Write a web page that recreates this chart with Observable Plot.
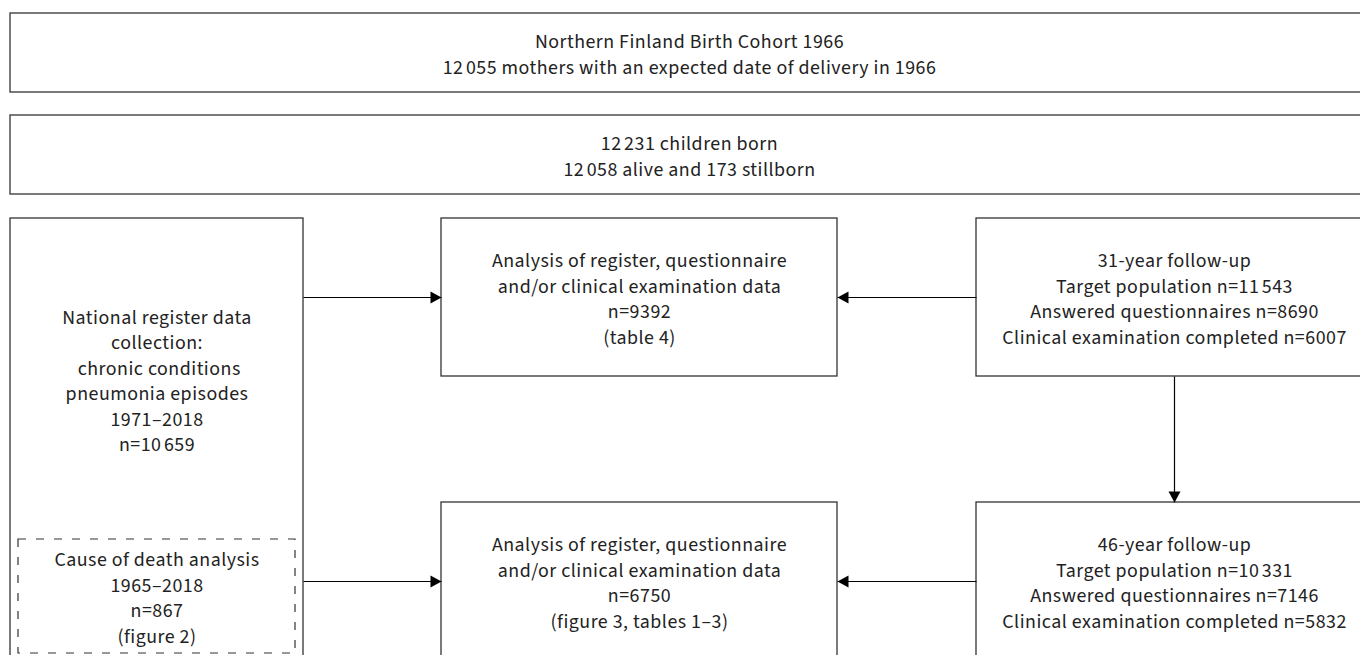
<!DOCTYPE html>
<html>
<head>
<meta charset="utf-8">
<script src="https://cdn.jsdelivr.net/npm/d3@7"></script>
<script src="https://cdn.jsdelivr.net/npm/@observablehq/plot@0.6"></script>
<style>
  html, body { margin: 0; padding: 0; background: #fff; overflow: hidden; }
  #chart svg { overflow: hidden; }
  #chart svg text { letter-spacing: 0.5px; }
</style>
</head>
<body>
<div id="chart"></div>
<script>
// ---- content (texts of the flow chart) ----
const boxIds = ["cohort", "born", "register", "analysis31", "follow31", "death", "analysis46", "follow46"];
const boxLabels = [
  "Northern Finland Birth Cohort 1966\n12\u2009055 mothers with an expected date of delivery in 1966",
  "12\u2009231 children born\n12\u2009058 alive and 173 stillborn",
  "National register data\ncollection:\n chronic conditions\npneumonia episodes\n1971\u20132018\nn=10\u2009659",
  "Analysis of register, questionnaire\nand/or clinical examination data\nn=9392\n(table 4)",
  "31-year follow-up\nTarget population n=11\u2009543\nAnswered questionnaires n=8690\nClinical examination completed n=6007",
  "Cause of death analysis\n1965\u20132018\nn=867\n(figure 2)",
  "Analysis of register, questionnaire\nand/or clinical examination data\nn=6750\n(figure 3, tables 1\u20133)",
  "46-year follow-up\nTarget population n=10\u2009331\nAnswered questionnaires n=7146\nClinical examination completed n=5832"
];
const boxDashed = [false, false, false, false, false, true, false, false];
// arrows: from box -> to box
const arrowFrom = ["register", "follow31", "death", "follow46", "follow31"];
const arrowTo   = ["analysis31", "analysis31", "analysis46", "analysis46", "follow46"];

// ---- layout (pixel geometry of the diagram) ----
const W = 1360, H = 655;
const layout = {
  cohort:     {x1: 10,  x2: 1368, y1: 13,  y2: 92},
  born:       {x1: 10,  x2: 1368, y1: 115, y2: 194},
  register:   {x1: 10,  x2: 303,  y1: 218, y2: 680, ty: 379},
  analysis31: {x1: 441, x2: 837,  y1: 218, y2: 376},
  follow31:   {x1: 976, x2: 1372, y1: 218, y2: 376},
  death:      {x1: 18,  x2: 295,  y1: 539, y2: 653},
  analysis46: {x1: 441, x2: 837,  y1: 502, y2: 660},
  follow46:   {x1: 976, x2: 1372, y1: 502, y2: 660}
};

const boxes = boxIds.map((id, i) => {
  const g = layout[id];
  return {id, label: boxLabels[i], dashed: boxDashed[i], ...g,
          cx: (g.x1 + g.x2) / 2, cy: g.ty ?? (g.y1 + g.y2) / 2};
});
const byId = Object.fromEntries(boxes.map(b => [b.id, b]));

// compute arrow endpoints from box geometry
const arrows = arrowFrom.map((f, i) => {
  const a = byId[f], b = byId[arrowTo[i]];
  if (a.x2 <= b.x1) { // left -> right
    const y = (b.y1 + b.y2) / 2;
    return {x1: a.x2, y1: y, x2: b.x1, y2: y, dir: "right"};
  } else if (a.x1 >= b.x2) { // right -> left
    const y = (b.y1 + b.y2) / 2;
    return {x1: a.x1, y1: y, x2: b.x2, y2: y, dir: "left"};
  } else { // top -> bottom
    const x = (b.x1 + b.x2) / 2;
    return {x1: x, y1: a.y2, x2: x, y2: b.y1, dir: "down"};
  }
});
// the death-box arrow starts from the register box's right edge
arrows.forEach((a, i) => { if (arrowFrom[i] === "death") a.x1 = byId.register.x2; });

// custom filled triangle arrowheads with the tip at the anchor point
const L = 11, HW = 6;
const triRight = {draw(ctx) { ctx.moveTo(0, 0); ctx.lineTo(-L, -HW); ctx.lineTo(-L, HW); ctx.closePath(); }};
const triLeft  = {draw(ctx) { ctx.moveTo(0, 0); ctx.lineTo(L, -HW); ctx.lineTo(L, HW); ctx.closePath(); }};
const triDown  = {draw(ctx) { ctx.moveTo(0, 0); ctx.lineTo(-HW, -L); ctx.lineTo(HW, -L); ctx.closePath(); }};
const heads = {right: triRight, left: triLeft, down: triDown};

const font = "'Source Sans Pro', 'Source Sans 3', Lato, sans-serif";

const chart = Plot.plot({
  width: W,
  height: H,
  margin: 0,
  style: {fontFamily: font, background: "#fff", overflow: "hidden"},
  x: {domain: [0, W], range: [0, W], axis: null},
  y: {domain: [0, H], range: [0, H], axis: null},
  marks: [
    Plot.rect(boxes.filter(d => !d.dashed), {
      x1: "x1", x2: "x2", y1: "y1", y2: "y2",
      fill: "white", stroke: "#333", strokeWidth: 1.3
    }),
    Plot.rect(boxes.filter(d => d.dashed), {
      x1: "x1", x2: "x2", y1: "y1", y2: "y2",
      fill: "white", stroke: "#333", strokeWidth: 1.2, strokeDasharray: "8,10"
    }),
    Plot.link(arrows, {
      x1: "x1", y1: "y1", x2: "x2", y2: "y2",
      stroke: "#000", strokeWidth: 1.2
    }),
    ...["right", "left", "down"].map(dir =>
      Plot.dot(arrows.filter(a => a.dir === dir), {
        x: "x2", y: "y2", symbol: heads[dir], r: 6, fill: "#000", stroke: "none"
      })
    ),
    Plot.text(boxes, {
      x: "cx", y: "cy", text: "label",
      fontSize: 19.9, lineHeight: 1.283, fill: "#222",
      textAnchor: "middle", lineAnchor: "middle"
    })
  ]
});
document.getElementById("chart").append(chart);
</script>
</body>
</html>
